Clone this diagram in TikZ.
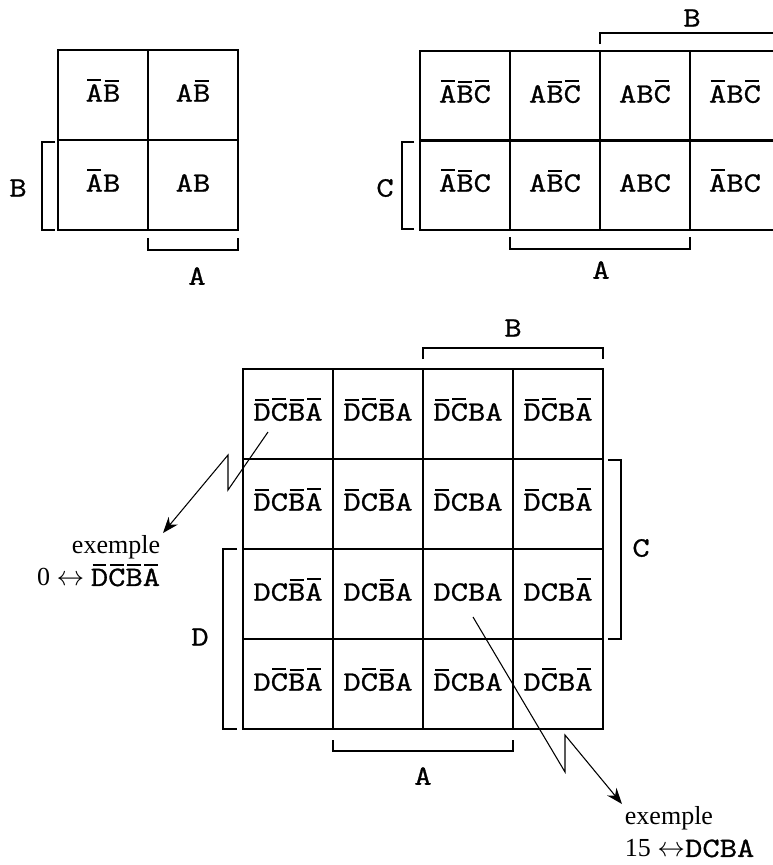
\documentclass[tikz,border=0pt]{standalone}
\usepackage{fontspec}
\newfontfamily\cellmono[FakeStretch=1.2,FakeBold=1]{Latin Modern Mono}
\newfontfamily\serifnote{Liberation Serif}
\usetikzlibrary{arrows.meta}

\newcommand{\cellfont}{\cellmono\fontsize{21pt}{25pt}\selectfont}
\newcommand{\notefont}{\serifnote\fontsize{19.5pt}{24pt}\selectfont}
% overbarred variable
\newcommand{\nbar}[1]{\setbox0\hbox{#1}%
  \rlap{\hspace{0.1\wd0}\rule[\dimexpr\ht0+2.2pt\relax]{0.8\wd0}{1.4pt}}\box0}

\begin{document}
\begin{tikzpicture}[
        x=0.75pt, y=-0.75pt,
        cell/.style={draw, line width=1.5pt, minimum width=67.5pt, minimum height=67.5pt, inner sep=0pt,
            text height=13pt, text depth=3pt, font=\cellfont},
        lbl/.style={font=\cellfont, inner sep=1pt},
        bracket/.style={draw, line width=1.5pt},
        link/.style={draw, line width=0.8pt, -{Stealth[length=12pt,width=9pt]}},
        note/.style={font=\notefont, inner sep=2pt},
    ]
    \clip (0,0) rectangle (773,865);

    % two variables
    \node[cell] (m2-00) at (103,95) {\nbar{A}\nbar{B}};
    \node[cell] (m2-01) at (193,95) {A\nbar{B}};
    \node[cell] (m2-10) at (103,185) {\nbar{A}B};
    \node[cell] (m2-11) at (193,185) {AB};
    \path[bracket] (55,142) -- (42,142) -- (42,230) -- (55,230);
    \path[bracket] (148,238) -- (148,250) -- (238,250) -- (238,238);
    \node[lbl] (m2-b) at (18,188) {B};
    \node[lbl] (m2-a) at (197,276) {A};

    % three variables
    \begin{scope}[every node/.append style={minimum height=66.75pt}]
    \node[cell] (m3-00) at (465,96) {\nbar{A}\nbar{B}\nbar{C}};
    \node[cell] (m3-01) at (555,96) {A\nbar{B}\nbar{C}};
    \node[cell] (m3-02) at (645,96) {AB\nbar{C}};
    \node[cell] (m3-03) at (735,96) {\nbar{A}B\nbar{C}};
    \node[cell] (m3-10) at (465,185) {\nbar{A}\nbar{B}C};
    \node[cell] (m3-11) at (555,185) {A\nbar{B}C};
    \node[cell] (m3-12) at (645,185) {ABC};
    \node[cell] (m3-13) at (735,185) {\nbar{A}BC};
    \end{scope}
    \path[bracket] (600,44) -- (600,33) -- (790,33);
    \path[bracket] (414,142) -- (402,142) -- (402,229) -- (414,229);
    \path[bracket] (510,237) -- (510,249) -- (690,249) -- (690,237);
    \node[lbl] (m3-b) at (692,18) {B};
    \node[lbl] (m3-c) at (385,188) {C};
    \node[lbl] (m3-a) at (601,270) {A};

    % four variables
    \node[cell] (m4-00) at (288,414) {\nbar{D}\nbar{C}\nbar{B}\nbar{A}};
    \node[cell] (m4-01) at (378,414) {\nbar{D}\nbar{C}\nbar{B}A};
    \node[cell] (m4-02) at (468,414) {\nbar{D}\nbar{C}BA};
    \node[cell] (m4-03) at (558,414) {\nbar{D}\nbar{C}B\nbar{A}};
    \node[cell] (m4-10) at (288,504) {\nbar{D}C\nbar{B}\nbar{A}};
    \node[cell] (m4-11) at (378,504) {\nbar{D}C\nbar{B}A};
    \node[cell] (m4-12) at (468,504) {\nbar{D}CBA};
    \node[cell] (m4-13) at (558,504) {\nbar{D}CB\nbar{A}};
    \node[cell] (m4-20) at (288,594) {DC\nbar{B}\nbar{A}};
    \node[cell] (m4-21) at (378,594) {DC\nbar{B}A};
    \node[cell] (m4-22) at (468,594) {DCBA};
    \node[cell] (m4-23) at (558,594) {DCB\nbar{A}};
    \node[cell] (m4-30) at (288,684) {D\nbar{C}\nbar{B}\nbar{A}};
    \node[cell] (m4-31) at (378,684) {D\nbar{C}\nbar{B}A};
    \node[cell] (m4-32) at (468,684) {\nbar{D}CBA};
    \node[cell] (m4-33) at (558,684) {D\nbar{C}B\nbar{A}};
    \path[bracket] (423,359) -- (423,348) -- (603,348) -- (603,359);
    \path[bracket] (608,460) -- (621,460) -- (621,639) -- (608,639);
    \path[bracket] (237,549) -- (223,549) -- (223,729) -- (237,729);
    \path[bracket] (333,740) -- (333,751) -- (513,751) -- (513,740);
    \node[lbl] (m4-b) at (513,328) {B};
    \node[lbl] (m4-c) at (641,548) {C};
    \node[lbl] (m4-d) at (200,637) {D};
    \node[lbl] (m4-a) at (423,776) {A};

    % examples
    \node[note, align=right, anchor=north east] (ex0) at (163,533)
        {exemple\\0 $\leftrightarrow$ {\cellfont\nbar{D}\nbar{C}\nbar{B}\nbar{A}}};
    \node[note, align=left, anchor=north west] (ex15) at (622,804)
        {exemple\\15 $\leftrightarrow${\cellfont DCBA}};
    \coordinate (z0a) at (228,490);
    \coordinate (z0b) at (228,455);
    \coordinate (z15a) at (565,772);
    \coordinate (z15b) at (565,735);
    \draw[link] ([shift={(-20,18)}]m4-00.center) -- (z0a) -- (z0b) -- (ex0.north east);
    \draw[link] ([shift={(5,23)}]m4-22.center) -- (z15a) -- (z15b) -- (ex15.north west);

\end{tikzpicture}
\end{document}
